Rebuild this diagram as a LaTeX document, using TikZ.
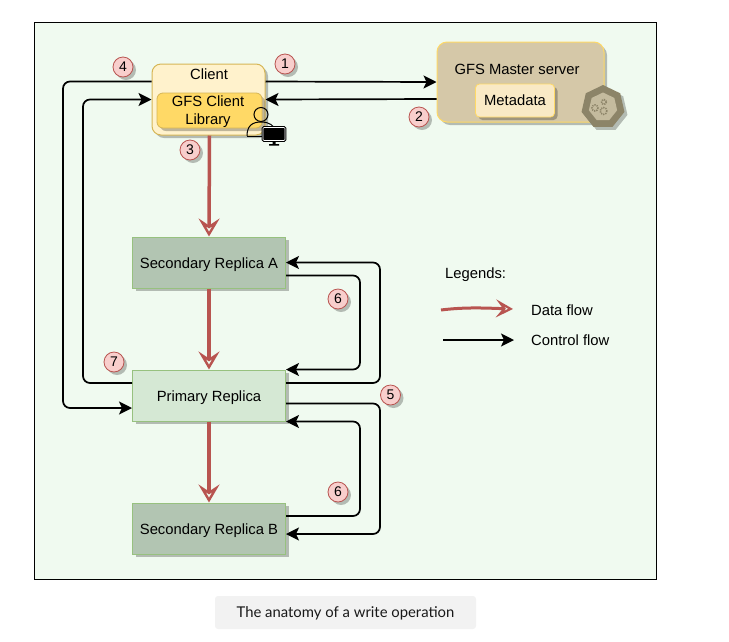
\documentclass[tikz,border=0pt]{standalone}
\usepackage{fontspec}
\setmainfont{Liberation Sans}
\newfontfamily\captionfont{Lato}
\usetikzlibrary{arrows.meta,shadows,shapes.geometric}
\definecolor{panelgreen}{HTML}{F0FAF0}
\definecolor{dataRed}{HTML}{B85450}
\definecolor{clientFill}{HTML}{FFF2CC}
\definecolor{clientLine}{HTML}{D6B656}
\definecolor{libFill}{HTML}{FFD966}
\definecolor{masterFill}{HTML}{D5C8A8}
\definecolor{metaFill}{HTML}{F9E9C5}
\definecolor{secFill}{HTML}{B2C5B2}
\definecolor{priFill}{HTML}{D5E8D4}
\definecolor{repLine}{HTML}{97C17F}
\definecolor{badgeFill}{HTML}{F8CECC}
\definecolor{hexDark}{HTML}{8C8468}
\definecolor{hexLight}{HTML}{C4BB9E}
\tikzset{
  softshadow/.style={drop shadow={shadow xshift=3pt,shadow yshift=-3pt,fill=black,opacity=0.25}},
  replica/.style={draw=repLine,line width=1pt,minimum width=153pt,minimum height=51pt,inner sep=0pt,text height=11pt,text depth=0pt,softshadow},
  secondary/.style={replica,fill=secFill},
  primaryrep/.style={replica,fill=priFill},
  badge/.style={circle,draw=dataRed,fill=badgeFill,line width=0.8pt,minimum size=20pt,inner sep=0pt,softshadow,font=\fontsize{14}{16}\selectfont},
  ctrl/.style={draw=black,line width=1.7pt,rounded corners=7pt,-{Stealth[length=13pt,width=13pt,inset=3pt]}},
  dataflow/.style={draw=dataRed,line width=3.5pt,-{Stealth[open,length=18pt,width=21pt,inset=7pt,line width=2.4pt]}},
  label/.style={inner sep=0pt}
}
\begin{document}
\begin{tikzpicture}[x=1pt,y=-1pt,every node/.style={font=\fontsize{14.8}{18}\selectfont}]
\useasboundingbox (0,0) rectangle (729,641);
    %Panel and caption
    \draw[black,fill=panelgreen,line width=0.8pt] (34.5,22) rectangle (656,579);
    \fill[black!5,rounded corners=3pt] (215,596) rectangle (476,629);
    \node[inner sep=0pt,text=black!90,font=\captionfont\fontsize{14.85}{17}\selectfont] (caption) at (345.5,613) {The anatomy of a write operation};

    %Lanes of the connectors
    \coordinate (laneOut) at (63,250);
    \coordinate (laneBack) at (83,250);
    \coordinate (laneSix) at (360,320);
    \coordinate (laneFive) at (380,320);
    \coordinate (laneSixB) at (360,470);
    \coordinate (laneFiveB) at (380,470);

    %Client and master
    \node[draw=clientLine,fill=clientFill,line width=1pt,rounded corners=9pt,minimum width=113pt,minimum height=71pt,softshadow] (client) at (208.5,99.5) {};
    \node[label] (clientText) at (209,74) {Client};
    \node[draw=clientLine,fill=libFill,line width=0.8pt,rounded corners=6pt,minimum width=105pt,minimum height=35pt,softshadow,inner sep=0pt] (library) at (209.5,110.5) {};
    \node[label,align=center] (libraryText) at (208,111.5) {GFS Client\\Library};
    \node[draw=libFill,fill=masterFill,line width=1pt,rounded corners=10pt,minimum width=167pt,minimum height=80pt,softshadow] (master) at (520.5,82) {};
    \node[label] (masterText) at (517,69) {GFS Master server};
    \node[draw=libFill,fill=metaFill,line width=0.8pt,rounded corners=4pt,minimum width=79pt,minimum height=33pt,softshadow,inner sep=0pt] (metadata) at (515,100.5) {Metadata};

    %Master icon
    \node[regular polygon,regular polygon sides=7,fill=hexDark,minimum size=44pt,inner sep=0pt,softshadow] (masterIcon) at (603,107) {};
    \node[regular polygon,regular polygon sides=7,fill=hexLight,minimum size=29pt,inner sep=0pt] (masterCore) at (603,107) {};
    \foreach \gx/\gy/\gr in {595/108/3,604/102/2.4,603.5/111/3.4}{
        \draw[hexDark,line width=1.6pt,dash pattern=on 1.2pt off 1pt] (\gx,\gy) circle (\gr);
    }

    %Replicas
    \node[secondary] (secA) at (209,262.5) {Secondary Replica A};
    \node[primaryrep] (primary) at (209,395.5) {Primary Replica};
    \node[secondary] (secB) at (209,528.5) {Secondary Replica B};

    %Control flow
    \draw[ctrl] ([yshift=18pt]client.east) -- (master.west);
    \draw[ctrl] ([yshift=-17pt]master.west) -- (client.east);
    \draw[ctrl] ([yshift=18pt]client.west) -| (laneOut) |- ([yshift=-12.5pt]primary.west);
    \draw[ctrl] ([yshift=12.5pt]primary.west) -| (laneBack) |- (client.west);
    \draw[ctrl] ([yshift=12.5pt]primary.east) -| (laneFive) |- (secA.east);
    \draw[ctrl] ([yshift=-13pt]secA.east) -| (laneSix) |- (primary.north east);
    \draw[ctrl] ([yshift=-8pt]primary.east) -| (laneFiveB) |- ([yshift=-5.5pt]secB.east);
    \draw[ctrl] ([yshift=12.5pt]secB.east) -| (laneSixB) |- (primary.south east);

    %Data flow
    \draw[dataflow] (library.south |- client.south) -- (secA.north);
    \draw[dataflow] (secA.south) -- (primary.north);
    \draw[dataflow] (primary.south) -- (secB.north);

    %User icon
    \draw[black,line width=1pt] (247,136) .. controls (247,126) and (252,122) .. (261,122) .. controls (270,122) and (274,126) .. (275,130);
    \draw[black,line width=1pt] (247,136) -- (262,136);
    \node[circle,draw=black,line width=1pt,minimum size=14pt,inner sep=0pt] (userHead) at (261,114.5) {};
    \node[draw=black,fill=black,line width=1pt,rounded corners=1pt,minimum width=22pt,minimum height=13pt,inner sep=0pt,double=white] (screen) at (274,134) {};
    \fill[black] (272.5,141) rectangle (275.5,144) (269,144) rectangle (279,145.5);

    %Legend
    \node[label,anchor=west] (legendTitle) at (445,275) {Legends:};
    \node[label,anchor=west] (dataText) at (531,310) {Data flow};
    \node[label,anchor=west] (ctrlText) at (531,340) {Control flow};
    \coordinate (dataStart) at (441,310);
    \coordinate (dataEnd) at (513,309);
    \coordinate (ctrlStart) at (443,340);
    \coordinate (ctrlEnd) at (514,340);
    \draw[dataflow,line width=3pt,-{Stealth[open,length=17pt,width=18pt,inset=7pt,line width=2.2pt]}] (dataStart) .. controls (465,307) and (485,308) .. (dataEnd);
    \draw[ctrl] (ctrlStart) -- (ctrlEnd);

    %Step numbers
    \foreach \n/\t/\px/\py in {one/1/285/64,two/2/419/117,three/3/190/150,four/4/123/67,five/5/390.5/395,sixA/6/338/299,sixB/6/338/492,seven/7/114/362}{
        \node[badge] (step\n) at (\px,\py) {\t};
    }
\end{tikzpicture}
\end{document}
